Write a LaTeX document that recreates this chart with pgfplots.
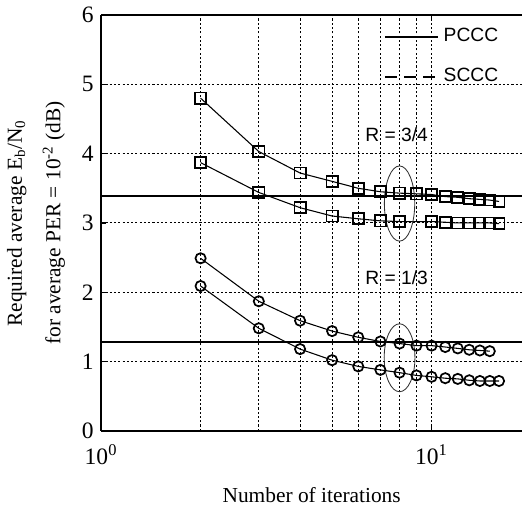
\documentclass[border=0pt]{standalone}
\usepackage{fontspec}
\setmainfont{Liberation Serif}
\setsansfont{Liberation Sans}
\usepackage{pgfplots}
\pgfplotsset{compat=1.18}
\begin{document}
\begin{tikzpicture}
\begin{semilogxaxis}[
  scale only axis, width=197pt, height=194.6pt,
  xmin=1, xmax=18.8, ymin=0, ymax=6,
  axis y line*=left,
  axis line style={line width=0.8pt},
  ytick={0,1,2,3,4,5,6},
  xtick={1,10},
  xticklabels={10\textsuperscript{0},10\textsuperscript{1}},
  minor xtick={2,3,4,5,6,7,8,9},
  grid=both,
  major grid style={black, line width=0.5pt, dash pattern=on 1pt off 1pt},
  minor grid style={black, line width=0.5pt, dash pattern=on 1pt off 1pt},
  major tick length=2.5pt, minor tick length=0pt,
  tick style={black, line width=0.6pt},
  tick align=inside,
  tick label style={font=\fontsize{11}{12}\selectfont},
  /pgf/number format/assume math mode=true,
  xticklabel style={yshift=-3pt},
  xlabel={Number of iterations},
  xlabel style={font=\fontsize{10}{12}\selectfont, yshift=-4pt},
  ylabel={Required average E\textsubscript{b}/N\textsubscript{0}\\for average PER = 10\textsuperscript{-2} (dB)},
  ylabel style={align=center, font=\fontsize{10}{18}\selectfont, yshift=1pt},
  legend style={draw=none, fill=none, font=\sffamily\fontsize{9}{10}\selectfont,
    at={(axis description cs:1,1)}, anchor=north east, xshift=-6pt, yshift=-2pt,
    row sep=7pt},
  legend cell align=left,
  legend image code/.code={\draw[#1] (0pt,0pt) -- (25pt,0pt);},
]
\addlegendimage{black, line width=1pt}
\addlegendentry{PCCC}
\addlegendimage{black, line width=1pt, dash pattern=on 5.5pt off 3.5pt}
\addlegendentry{SCCC}

% horizontal reference lines
\addplot[black, line width=1pt, forget plot] coordinates {(1,3.39) (18.8,3.39)};
\addplot[black, line width=1pt, forget plot] coordinates {(1,1.285) (18.8,1.285)};

% R = 3/4 (squares)
\addplot[black, line width=0.5pt, mark=square, mark size=2.6pt,
  mark options={line width=0.8pt, fill=white}, forget plot] coordinates {
(2,4.80) (3,4.03) (4,3.72) (5,3.60) (6,3.50) (7,3.45) (8,3.43) (9,3.42)
(10,3.41) (11,3.38) (12,3.37) (13,3.35) (14,3.34) (15,3.33) (16,3.31)};
\addplot[black, line width=0.5pt, mark=square, mark size=2.6pt,
  mark options={line width=0.8pt, fill=white}, forget plot] coordinates {
(2,3.87) (3,3.44) (4,3.22) (5,3.10) (6,3.06) (7,3.03) (8,3.02)
(10,3.02) (11,3.01) (12,3.00) (13,3.00) (14,3.00) (15,3.00) (16,2.99)};

% R = 1/3 (circles)
\addplot[black, line width=0.5pt, mark=o, mark size=2.4pt,
  mark options={line width=0.8pt}, forget plot] coordinates {
(2,2.49) (3,1.87) (4,1.59) (5,1.44) (6,1.35) (7,1.29) (8,1.26) (9,1.23)
(10,1.23) (11,1.21) (12,1.19) (13,1.17) (14,1.16) (15,1.15)};
\addplot[black, line width=0.5pt, mark=o, mark size=2.4pt,
  mark options={line width=0.8pt}, forget plot] coordinates {
(2,2.09) (3,1.48) (4,1.18) (5,1.02) (6,0.93) (7,0.88) (8,0.84) (9,0.80)
(10,0.78) (11,0.76) (12,0.75) (13,0.73) (14,0.72) (15,0.72) (16,0.72)};

\draw[black!80, line width=0.4pt] (axis cs:8,3.28) ellipse [x radius=7.1pt, y radius=17.6pt];
\draw[black!80, line width=0.4pt] (axis cs:8,1.055) ellipse [x radius=7.2pt, y radius=15.9pt];
\node[font=\sffamily\fontsize{9}{10}\selectfont] at (axis cs:7.84,4.28) {R = 3/4};
\node[font=\sffamily\fontsize{9}{10}\selectfont] at (axis cs:7.84,2.21) {R = 1/3};
\end{semilogxaxis}
\end{tikzpicture}
\end{document}
